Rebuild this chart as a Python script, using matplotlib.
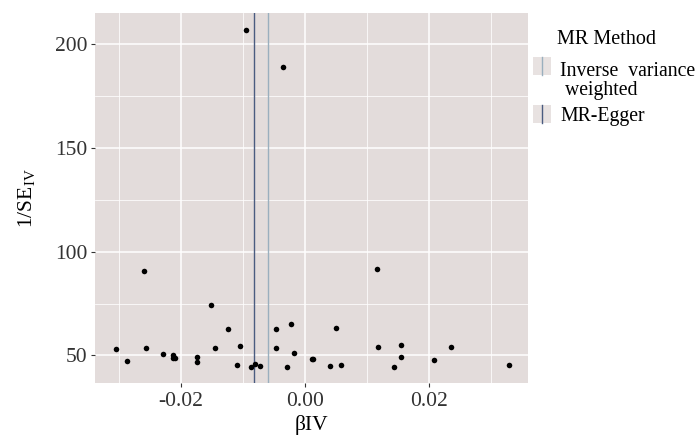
"""Funnel plot of single-SNP MR estimates (beta IV vs 1/SE IV)."""

import matplotlib

matplotlib.use("Agg")
import matplotlib.pyplot as plt
from matplotlib.lines import Line2D
from matplotlib.patches import Rectangle
from matplotlib.ticker import MultipleLocator

plt.rcParams["font.family"] = ["Liberation Serif", "DejaVu Serif"]
plt.rcParams["mathtext.fontset"] = "custom"
plt.rcParams["mathtext.rm"] = "Liberation Serif"

# per-SNP estimates
beta_iv = [
    -0.03047, -0.02858, -0.02596, -0.02557, -0.02283, -0.02122, -0.02122, -0.02085,
    -0.01742, -0.01742, -0.01517, -0.01441, -0.01243, -0.01043, -0.01087, -0.00862,
    -0.00802, -0.00717, -0.00464, -0.00464, -0.00222, -0.00169, -0.00293, 0.01163,
    0.00116, 0.00137, 0.00399, 0.00507, 0.00576, 0.01172, 0.01543, 0.01554,
    0.01436, 0.02074, 0.02354, 0.03282, -0.00947, -0.00351,
]
inv_se = [
    53.3, 47.3, 90.7, 53.6, 50.6, 50.4, 48.9, 48.6,
    49.3, 46.7, 74.3, 53.6, 62.9, 54.7, 45.6, 44.6,
    45.9, 45.1, 62.8, 53.5, 65.0, 51.4, 44.6, 91.6,
    48.2, 48.2, 44.9, 63.1, 45.4, 54.1, 54.9, 49.4,
    44.5, 47.7, 54.1, 45.3, 207.1, 189.2,
]

methods = ["Inverse  variance\n weighted", "MR-Egger"]
method_estimates = [-0.00599, -0.00824]
method_colours = ["#9AAFBE", "#4A5C80"]

PANEL = "#E3DCDB"

fig = plt.figure(figsize=(7.0, 4.4), dpi=100)
ax = fig.add_axes([0.1364, 0.1289, 0.6183, 0.8422])
ax.set_facecolor(PANEL)
for side in ax.spines.values():
    side.set_visible(False)

ax.set_xlim(-0.03372, 0.036)
ax.set_ylim(36.6, 215.2)
ax.xaxis.set_major_locator(MultipleLocator(0.02))
ax.xaxis.set_minor_locator(MultipleLocator(0.01))
ax.yaxis.set_major_locator(MultipleLocator(50))
ax.yaxis.set_minor_locator(MultipleLocator(25))
ax.xaxis.set_major_formatter(lambda v, _: "0.00" if abs(v) < 1e-9 else f"{v:.2f}")
ax.grid(which="major", color="white", lw=1.1)
ax.grid(which="minor", color="white", lw=0.55)
ax.set_axisbelow(True)
ax.tick_params(which="major", length=3, width=0.8, color="#333333",
               labelsize=15.5, labelcolor="#333333", pad=3)
ax.tick_params(which="minor", length=0)

for est, col in zip(method_estimates, method_colours):
    ax.axvline(est, color=col, lw=1.0, zorder=2)

ax.scatter(beta_iv, inv_se, s=16, color="black", linewidths=0, zorder=3)

ax.set_xlabel("βIV", fontsize=15.5, labelpad=3)
ax.set_ylabel(r"1/SE$_{\mathrm{IV}}$", fontsize=15.5, labelpad=12)

# legend, drawn by hand to mimic ggplot's vline keys
fig.text(557 / 700, 1 - 40 / 440, "MR Method", fontsize=14.5, va="center", ha="left")
key_tops = [57, 105]
text_y = [[71, 90], [116]]
for top, col, label, ys in zip(key_tops, method_colours, methods, text_y):
    x0, x1 = 533 / 700, 551 / 700
    y0, y1 = 1 - (top + 18) / 440, 1 - top / 440
    fig.add_artist(Rectangle((x0, y0), x1 - x0, y1 - y0, transform=fig.transFigure,
                             facecolor="#E8E2E1", edgecolor="none"))
    xm = (x0 + x1) / 2
    fig.add_artist(Line2D([xm, xm], [y0, y1], transform=fig.transFigure, color=col, lw=1.0))
    for line, yy in zip(label.split("\n"), ys):
        fig.text(560 / 700, 1 - yy / 440, line, fontsize=14.2, va="center", ha="left")

fig.savefig("out.png", dpi=100, facecolor="white")
